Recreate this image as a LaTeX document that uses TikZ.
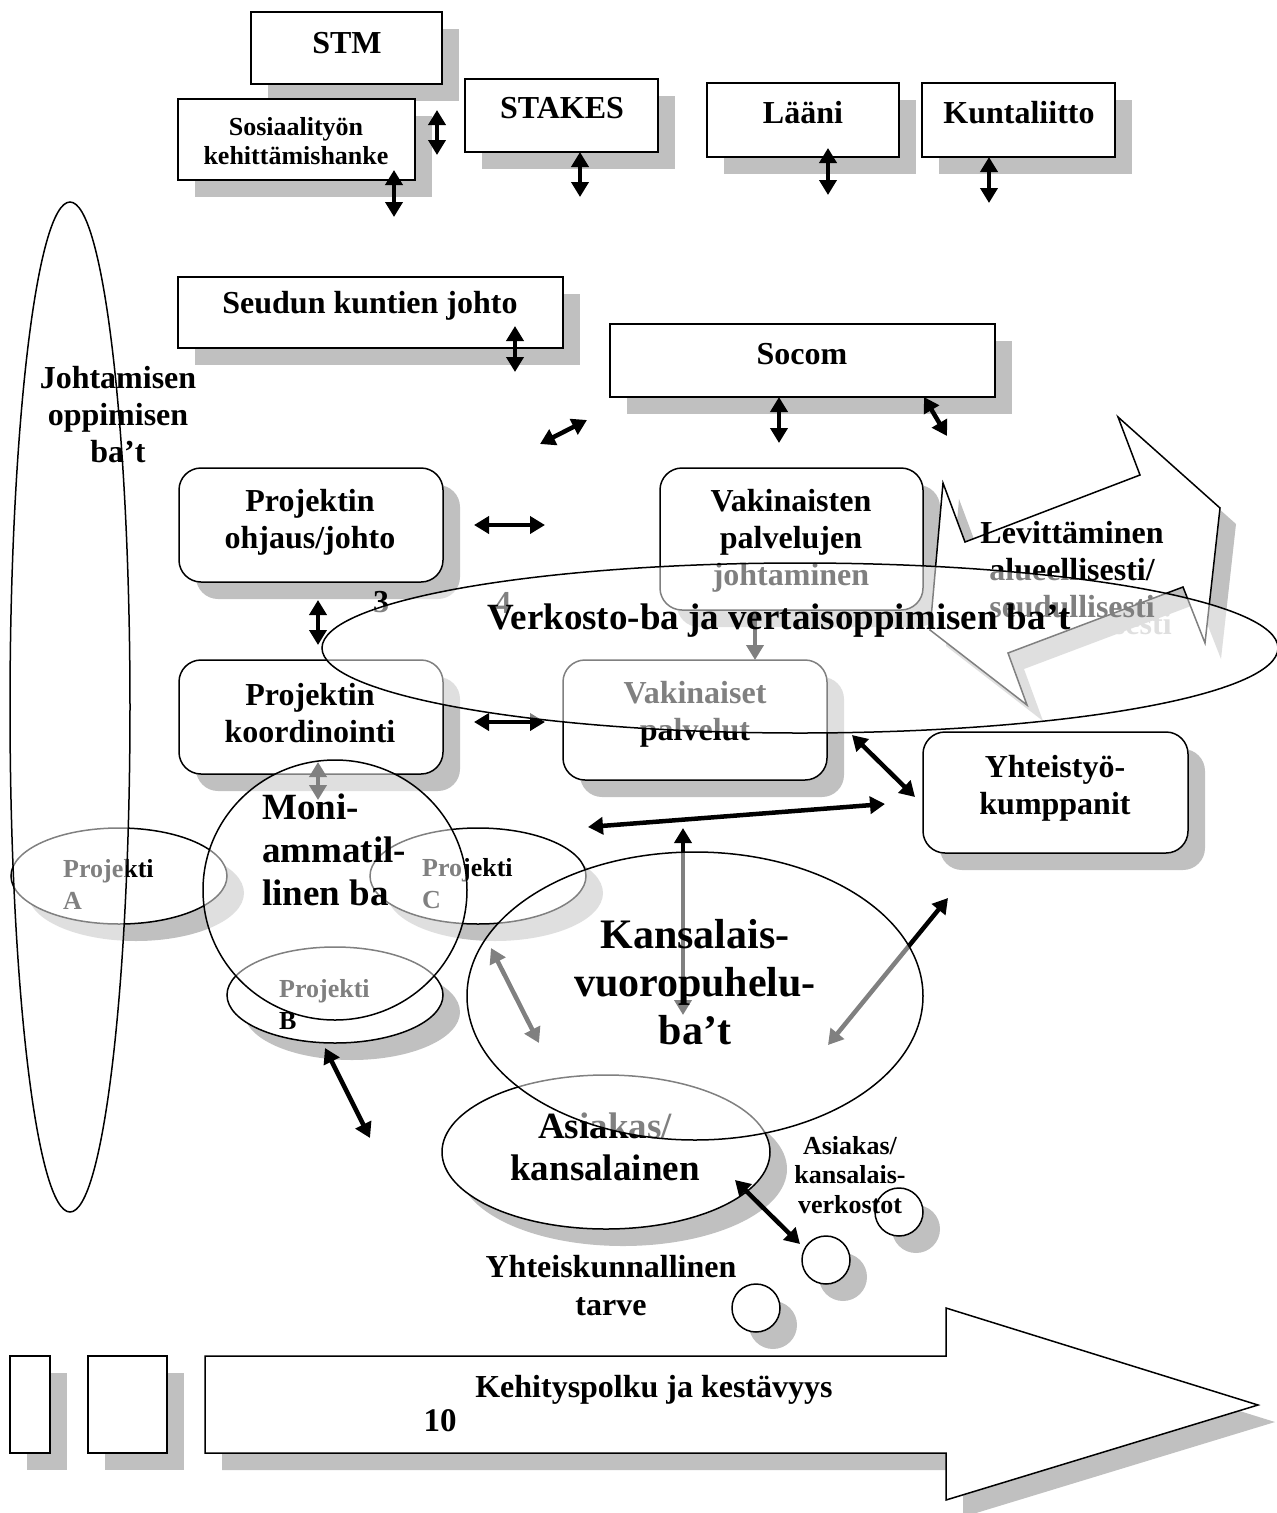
\documentclass[tikz,border=0pt]{standalone}
\usepackage{fontspec}
\setmainfont{Liberation Serif}
\usetikzlibrary{arrows.meta,shapes.geometric,shadows}
\definecolor{shd}{HTML}{C0C0C0}
\newcommand{\fsz}[2]{\fontsize{#1}{#2}\selectfont\bfseries}
\begin{document}
\begin{tikzpicture}[x=1pt,y=-1pt,
  shadowed/.style={drop shadow={shadow xshift=17pt,shadow yshift=-17pt,fill=shd,opacity=1}},
  sbox/.style={rectangle,draw=black,line width=1.5pt,fill=white,inner sep=0pt,shadowed},
  rbox/.style={sbox,rounded corners=22pt},
  sell/.style={ellipse,draw=black,line width=1.5pt,fill=white,inner sep=0pt,shadowed},
  scirc/.style={circle,draw=black,line width=1.5pt,fill=white,inner sep=0pt,minimum size=48pt,shadowed},
  veil/.style={ellipse,draw=black,line width=1.5pt,fill=white,fill opacity=0.5,inner sep=0pt},
  t32/.style={font=\fsz{32}{37},align=center,inner sep=0pt},
  t26/.style={font=\fsz{26}{29},align=center,inner sep=0pt},
  t37/.style={font=\fsz{37}{43},align=center,inner sep=0pt},
  t42/.style={font=\fsz{42}{48},align=center,inner sep=0pt},
  dbl/.style={line width=4.5pt,{Triangle[length=15pt,width=17pt]}-{Triangle[length=15pt,width=17pt]}},
  sgl/.style={line width=4.5pt,-{Triangle[length=15pt,width=17pt]}},
]
\useasboundingbox (0,0) rectangle (1277,1513);

% ---------- top rectangles ----------
\node[sbox,minimum width=191pt,minimum height=72pt] (stm) at (346.5,48) {};
\node[t32] (stmT) at (347,43) {STM};
\node[sbox,minimum width=237pt,minimum height=81pt] (sos) at (296.5,139.5) {};
\node[t26] (sosT) at (296,141) {Sosiaalityön\\kehittämishanke};
\node[sbox,minimum width=193pt,minimum height=73pt] (stakes) at (561.5,115.5) {};
\node[t32] (stakesT) at (562,108) {STAKES};
\node[sbox,minimum width=192pt,minimum height=74pt] (laani) at (803,120) {};
\node[t32] (laaniT) at (803,113) {Lääni};
\node[sbox,minimum width=193pt,minimum height=74pt] (kunta) at (1018.5,120) {};
\node[t32] (kuntaT) at (1019,113) {Kuntaliitto};
\node[sbox,minimum width=385pt,minimum height=71pt] (seudun) at (370.5,312.5) {};
\node[t32] (seudunT) at (370,306) {Seudun kuntien johto};
\node[sbox,minimum width=385pt,minimum height=73pt] (socom) at (802.5,360.5) {};
\node[t32] (socomT) at (802,354) {Socom};

% ---------- rounded boxes ----------
\node[rbox,minimum width=264pt,minimum height=114pt] (ohj) at (311,525) {};
\node[t32] (ohjT) at (310,522) {Projektin\\ohjaus/johto};
\node[rbox,minimum width=263pt,minimum height=142pt] (vakj) at (791.5,539) {};
\node[t32] (vakjT) at (791,541) {Vakinaisten\\palvelujen\\johtaminen};
\node[rbox,minimum width=264pt,minimum height=114pt] (koord) at (311,717) {};
\node[t32] (koordT) at (310,713) {Projektin\\koordinointi};
\node[rbox,minimum width=264pt,minimum height=120pt] (vak) at (695,720) {};
\node[t32] (vakT) at (695,714) {Vakinaiset\\palvelut};
\node[rbox,minimum width=265pt,minimum height=121pt] (yht) at (1055.5,792.5) {};
\node[t32] (yhtT) at (1055,788) {Yhteistyö-\\kumppanit};

% ---------- Levittaminen shape ----------
\fill[shd,shift={(16,16)}] (1118,417) -- (1220,508) -- (1205,643) -- (1183,587) -- (1008,653)
  -- (1027,705) -- (930,630) -- (943,483) -- (965,542) -- (1140,475) -- cycle;
\node[t32,text=shd] (levG) at (1089,587) {Levittäminen\\alueellisesti/\\seudullisesti};
\draw[line width=1.5pt,fill=white] (1118,417) -- (1220,508) -- (1205,643) -- (1183,587) -- (1008,653)
  -- (1027,705) -- (930,630) -- (943,483) -- (965,542) -- (1140,475) -- cycle;
\node[t32] (lev) at (1072,570) {Levittäminen\\alueellisesti/\\seudullisesti};

% ---------- numbers ----------
\node[t32] (n3) at (381,602) {3};
\node[t32] (n4) at (503,603) {4};

% ---------- arrows ----------
\coordinate (a1s) at (437,110);  \coordinate (a1e) at (437,155);
\coordinate (a2s) at (394,170);  \coordinate (a2e) at (394,217);
\coordinate (a3s) at (580,152);  \coordinate (a3e) at (580,197);
\coordinate (a4s) at (828,148);  \coordinate (a4e) at (828,195);
\coordinate (a5s) at (989,157);  \coordinate (a5e) at (989,203);
\coordinate (a6s) at (515,326);  \coordinate (a6e) at (515,372);
\coordinate (a7s) at (779,397);  \coordinate (a7e) at (779,443);
\coordinate (a8s) at (924,397);  \coordinate (a8e) at (947,436);
\coordinate (a9s) at (540,444);  \coordinate (a9e) at (587,420);
\coordinate (a10s) at (474,525); \coordinate (a10e) at (545,525);
\coordinate (a11s) at (318,600); \coordinate (a11e) at (318,645);
\coordinate (a12s) at (474,722); \coordinate (a12e) at (545,722);
\coordinate (a13s) at (755,612); \coordinate (a13e) at (755,660);
\coordinate (a14s) at (318,762); \coordinate (a14e) at (318,800);
\coordinate (a15s) at (852,735); \coordinate (a15e) at (915,797);
\coordinate (a16s) at (588,827); \coordinate (a16e) at (885,804);
\coordinate (a17s) at (683,828); \coordinate (a17e) at (683,1015);
\coordinate (a18s) at (491,948); \coordinate (a18e) at (539,1043);
\coordinate (a19s) at (828,1045); \coordinate (a19e) at (948,898);
\coordinate (a20s) at (325,1048); \coordinate (a20e) at (370,1138);
\coordinate (a21s) at (735,1180); \coordinate (a21e) at (800,1244);
\foreach \i in {1,...,12,14,15,16,17,18,19} {\draw[dbl] (a\i s) -- (a\i e);}
\draw[sgl] (a13s) -- (a13e);

% ---------- project ellipses ----------
\node[sell,minimum width=216pt,minimum height=96pt] (pa) at (119,876) {};
\node[t26,align=left,anchor=west,font=\fsz{26}{32}] (paT) at (63,884) {Projekti\\A};
\node[sell,minimum width=216pt,minimum height=96pt] (pc) at (478,876) {};
\node[t26,align=left,anchor=west,font=\fsz{26}{32}] (pcT) at (422,884) {Projekti\\C};
\node[sell,minimum width=216pt,minimum height=96pt] (pb) at (335,995) {};
\node[t26,align=left,anchor=west,font=\fsz{26}{32}] (pbT) at (279,1005) {Projekti\\B};
\draw[dbl] (a20s) -- (a20e);

% ---------- client ----------
\node[sell,minimum width=328pt,minimum height=154pt] (asi) at (606,1152) {};
\node[t37,font=\fsz{37}{42}] (asiT) at (605,1147) {Asiakas/\\kansalainen};
\draw[dbl] (a21s) -- (a21e);
\node[scirc] (c1) at (899,1212) {};
\node[scirc] (c2) at (826,1260) {};
\node[scirc] (c3) at (756,1308) {};

% ---------- veils ----------
\node[veil,minimum width=120pt,minimum height=1010pt] (jo) at (70,707) {};
\node[veil,minimum width=264pt,minimum height=260pt] (moni) at (335,890) {};
\node[veil,minimum width=456pt,minimum height=288pt] (kans) at (695,996) {};
\node[veil,minimum width=956pt,minimum height=170pt] (verk) at (800,648) {};

% ---------- top texts ----------
\node[t32] (joT) at (118,415) {Johtamisen\\oppimisen\\ba’t};
\node[t37,align=left,anchor=west] (moniT) at (262,850) {Moni-\\ammatil-\\linen ba};
\node[t42] (kansT) at (695,982) {Kansalais-\\vuoropuhelu-\\ba’t};
\node[t37] (verkT) at (779,621) {Verkosto-ba ja vertaisoppimisen ba’t};
\node[t26,font=\fsz{26}{29.5}] (akv) at (850,1175) {Asiakas/\\kansalais-\\verkostot};
\node[t32,font=\fsz{32}{38}] (yk) at (611,1286) {Yhteiskunnallinen\\tarve};

% ---------- bottom ----------
\node[sbox,minimum width=40pt,minimum height=97pt] (r1) at (30,1404.5) {};
\node[sbox,minimum width=79pt,minimum height=97pt] (r2) at (127.5,1404.5) {};
\fill[shd,shift={(17,17)}] (205,1356) -- (946,1356) -- (946,1308) -- (1258,1405) -- (946,1500)
  -- (946,1453) -- (205,1453) -- cycle;
\draw[line width=1.5pt,fill=white] (205,1356) -- (946,1356) -- (946,1308) -- (1258,1405) -- (946,1500)
  -- (946,1453) -- (205,1453) -- cycle;
\node[t32] (keh) at (654,1390) {Kehityspolku ja kestävyys};
\node[t32,font=\fsz{33}{37}] (ten) at (440,1421) {10};
\end{tikzpicture}
\end{document}
